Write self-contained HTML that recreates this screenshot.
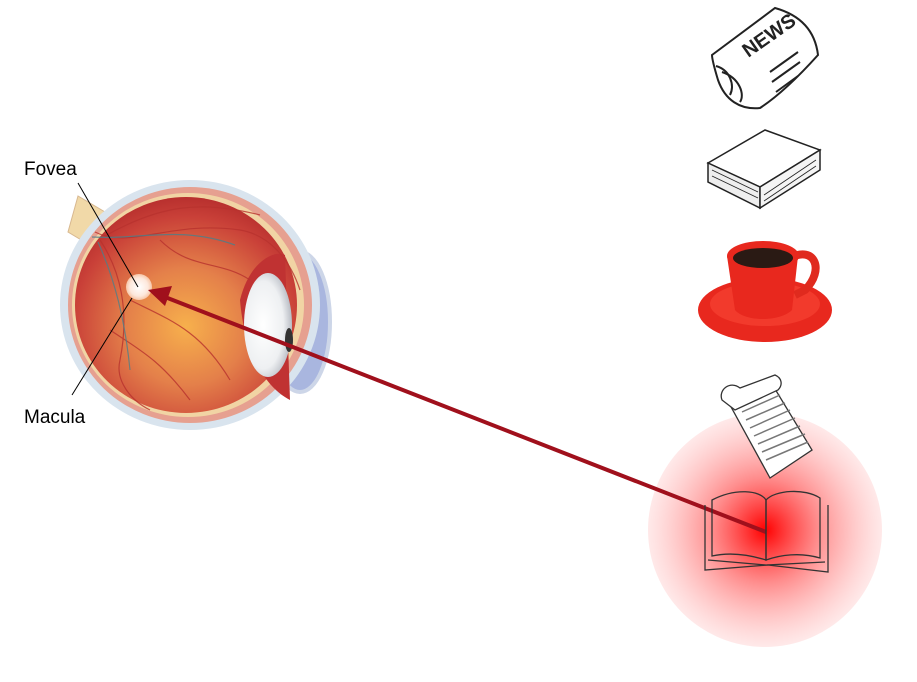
<!DOCTYPE html>
<html><head><meta charset="utf-8"><style>
html,body{margin:0;padding:0;background:#fff;}
svg{display:block;}
text{font-family:"Liberation Sans",sans-serif;}
</style></head><body>
<svg width="917" height="682" viewBox="0 0 917 682" xmlns="http://www.w3.org/2000/svg">
<defs>
<radialGradient id="glow" cx="0.5" cy="0.5" r="0.5">
<stop offset="0" stop-color="#ff0000"/>
<stop offset="0.45" stop-color="#ff7070" stop-opacity="0.8"/>
<stop offset="1" stop-color="#ffc8c8" stop-opacity="0.4"/>
</radialGradient>
<radialGradient id="inner" cx="0.5" cy="0.6" r="0.6">
<stop offset="0" stop-color="#f7b04c"/>
<stop offset="0.45" stop-color="#e4804a"/>
<stop offset="0.85" stop-color="#c94038"/>
<stop offset="1" stop-color="#b8302e"/>
</radialGradient>
<radialGradient id="mac" cx="0.5" cy="0.5" r="0.5">
<stop offset="0" stop-color="#fff"/>
<stop offset="0.7" stop-color="#fde8dc"/>
<stop offset="1" stop-color="#f7c6a8"/>
</radialGradient>
<radialGradient id="lens" cx="0.4" cy="0.5" r="0.6">
<stop offset="0" stop-color="#fff"/>
<stop offset="0.7" stop-color="#eef0f2"/>
<stop offset="1" stop-color="#b8bcc4"/>
</radialGradient>
</defs>

<circle cx="765" cy="530" r="117" fill="url(#glow)"/>

<!-- eye -->
<path d="M68 232 L78 196 L105 212 L98 250 Z" fill="#f1d9a8" stroke="#d8b890"/>
<ellipse cx="300" cy="322" rx="30" ry="70" fill="#a9b6df" stroke="#cdd6e8" stroke-width="4"/>
<ellipse cx="190" cy="305" rx="130" ry="125" fill="#d9e4ee"/>
<ellipse cx="190" cy="305" rx="122" ry="118" fill="#e6a090"/>
<ellipse cx="188" cy="305" rx="116" ry="112" fill="#f1d4a4"/>
<ellipse cx="186" cy="305" rx="111" ry="108" fill="url(#inner)"/>
<path d="M240 300 C250 260 275 250 285 255 L290 400 C270 390 245 360 240 300 Z" fill="#c03232"/>
<ellipse cx="268" cy="325" rx="24" ry="52" fill="url(#lens)"/>
<ellipse cx="289" cy="340" rx="4" ry="12" fill="#333"/>
<g fill="none" stroke="#b8322e" stroke-width="1.2" opacity="0.8">
<path d="M95 232 C130 250 170 220 240 230 C270 235 290 260 300 290"/>
<path d="M100 240 C120 270 130 310 120 360 C115 380 130 400 150 410"/>
<path d="M105 236 C160 205 200 200 260 215"/>
<path d="M130 300 C170 320 200 330 230 380"/>
<path d="M160 240 C190 270 220 260 250 280"/>
<path d="M110 330 C140 350 160 360 190 400"/>
</g>
<g fill="none" stroke="#4d7f8a" stroke-width="1.2" opacity="0.8">
<path d="M92 237 C140 240 180 225 235 245"/>
<path d="M98 242 C115 280 125 320 130 370"/>
</g>
<circle cx="139" cy="287" r="13" fill="url(#mac)"/>

<text x="24" y="175" font-size="19" fill="#000">Fovea</text>
<text x="24" y="423" font-size="19" fill="#000">Macula</text>
<line x1="78" y1="183" x2="138" y2="287" stroke="#000" stroke-width="1"/>
<line x1="72" y1="395" x2="132" y2="298" stroke="#000" stroke-width="1"/>

<line x1="766" y1="532" x2="165" y2="297" stroke="#a0101c" stroke-width="4"/>
<polygon points="148,290 172,286 165,306" fill="#a0101c"/>

<!-- newspaper -->
<g fill="none" stroke="#222" stroke-width="2">
<path d="M712 55 L775 8 C800 15 815 30 818 55 C800 75 780 95 760 108 C740 110 725 100 718 80 C715 70 712 60 712 55 Z"/>
<path d="M716 66 C730 70 735 85 730 95"/>
<path d="M722 72 C740 78 745 95 740 102"/>
<path d="M770 72 L798 52 M772 82 L800 62 M776 92 L798 76"/>
</g>
<text x="740" y="48" font-size="20" fill="#222" transform="rotate(-35 760 40)" font-weight="bold">NEWS</text>

<g stroke="#222" stroke-width="1.5">
<polygon points="708,163 765,130 820,150 760,187" fill="#fff"/>
<polygon points="708,163 760,187 760,208 708,182" fill="#eee"/>
<polygon points="760,187 820,150 820,170 760,208" fill="#f4f4f4"/>
<path d="M712 170 L758 192 M712 176 L758 198 M764 195 L816 160 M764 201 L816 166" fill="none" stroke-width="0.8"/>
</g>

<ellipse cx="765" cy="310" rx="67" ry="32" fill="#e8281e"/>
<ellipse cx="765" cy="304" rx="55" ry="22" fill="#f23a2c"/>
<path d="M790 258 C815 245 825 270 805 290 L795 295" fill="none" stroke="#e02a1e" stroke-width="8"/>
<path d="M727 256 L798 256 L792 310 C780 322 745 322 735 310 Z" fill="#e8281e"/>
<ellipse cx="763" cy="256" rx="36" ry="15" fill="#e8281e"/>
<ellipse cx="763" cy="258" rx="30" ry="10" fill="#2a1a14"/>

<g stroke="#333" stroke-width="1.3">
<polygon points="730,405 772,384 812,450 770,478" fill="#fff"/>
<path d="M722 400 C718 390 730 380 740 388 L775 375 C782 378 783 385 778 390 L735 410 Z" fill="#fff"/>
<path d="M742 412 L780 395 M746 420 L785 403 M750 428 L790 410 M754 436 L795 418 M758 444 L800 426 M762 452 L805 434 M766 460 L808 442" stroke="#777" stroke-width="1.5"/>
</g>

<g fill="none" stroke="#333" stroke-width="1.3">
<path d="M705 505 L705 570 L768 565 L828 572 L828 505"/>
<path d="M712 500 C735 488 760 490 766 500 L766 560 C750 555 730 552 712 556 Z"/>
<path d="M766 500 C775 490 805 488 820 498 L820 558 C800 552 780 555 766 560 Z"/>
<path d="M708 560 L766 565 L825 562"/>
</g>
</svg>
</body></html>
